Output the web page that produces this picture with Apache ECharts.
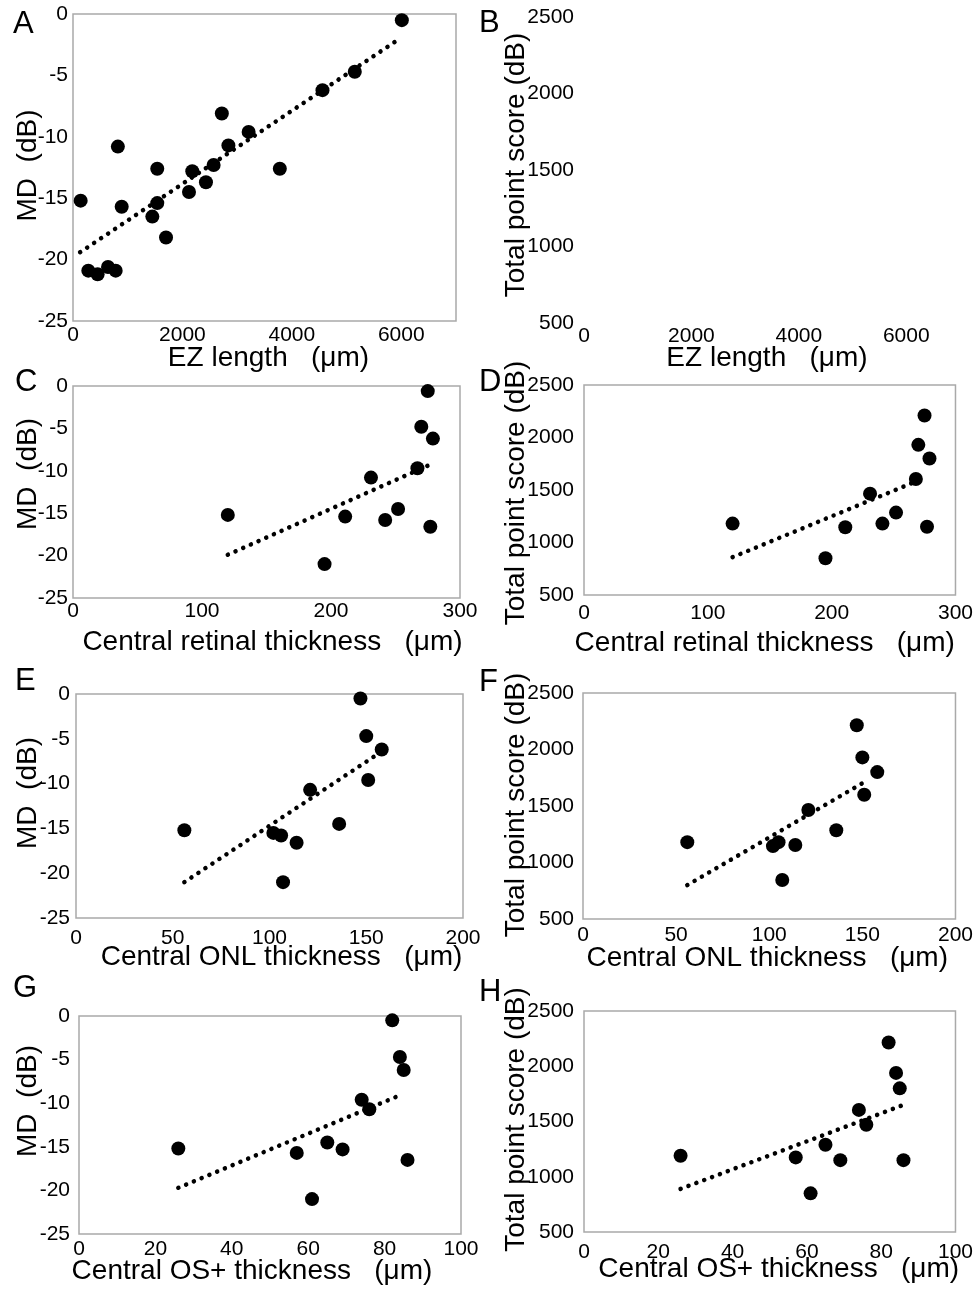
<!DOCTYPE html>
<html>
<head>
<meta charset="utf-8">
<title>MD and total point score vs. OCT measures</title>
<script src="https://cdn.jsdelivr.net/npm/echarts@6/dist/echarts.min.js"></script>
<style>
  html, body { margin: 0; padding: 0; background: #fff; }
  #chart { width: 976px; height: 1289px; }
</style>
</head>
<body>
<div id="chart"></div>
<script>
/* data */
const ezA = [6010, 5150, 4560, 2720, 3210, 2840, 820, 3780, 1540, 2180, 2570, 2430, 2120, 140, 1540, 890, 1450, 1700, 280, 450, 640, 780];
const mdA = [-0.5, -4.7, -6.2, -8.1, -9.6, -10.7, -10.8, -12.6, -12.6, -12.8, -12.3, -13.7, -14.5, -15.2, -15.4, -15.7, -16.5, -18.2, -20.9, -21.2, -20.6, -20.9];
const trendA = [[130, -19.4], [5890, -2.25]];

const crtC = [275, 270, 279, 267, 231, 120, 211, 242, 252, 277, 195];
const mdC = [-0.6, -4.8, -6.2, -9.7, -10.8, -15.2, -15.4, -15.8, -14.5, -16.6, -21];
const trendC = [[120, -19.9], [275, -9.4]];

const crtD = [275, 270, 279, 268, 231, 120, 211, 241, 252, 277, 195];
const tpsD = [2210, 1930, 1800, 1605, 1465, 1180, 1145, 1180, 1285, 1150, 850];
const trendD = [[120, 860], [275, 1615]];

const onlE = [147, 150, 158, 151, 121, 56, 102, 106, 114, 136, 107];
const mdE = [-0.5, -4.7, -6.2, -9.6, -10.7, -15.2, -15.5, -15.8, -16.6, -14.5, -21];
const trendE = [[56, -21], [156, -6.7]];

const onlF = [147, 150, 158, 151, 121, 56, 102, 105, 114, 136, 107];
const tpsF = [2215, 1930, 1800, 1600, 1465, 1180, 1145, 1180, 1155, 1285, 845];
const trendF = [[56, 800], [153, 1730]];

const osG = [82, 84, 85, 74, 76, 26, 57, 65, 69, 86, 61];
const mdG = [-0.5, -4.7, -6.2, -9.6, -10.7, -15.2, -15.7, -14.5, -15.3, -16.5, -21];
const trendG = [[26, -19.7], [84, -9.1]];

const osH = [82, 84, 85, 74, 76, 26, 57, 65, 69, 86, 61];
const tpsH = [2215, 1940, 1800, 1605, 1470, 1190, 1175, 1290, 1150, 1150, 850];
const trendH = [[26, 890], [86, 1650]];

const panelLetters = ["A", "B", "C", "D", "E", "F", "G", "H"];
const xNames = ["EZ length   (\u03bcm)", "EZ length   (\u03bcm)",
  "Central retinal thickness   (\u03bcm)", "Central retinal thickness   (\u03bcm)",
  "Central ONL thickness   (\u03bcm)", "Central ONL thickness   (\u03bcm)",
  "Central OS+ thickness   (\u03bcm)", "Central OS+ thickness   (\u03bcm)"];
const yNameMD = "MD  (dB)";
const yNameTPS = "Total point score (dB)";

const FONT = "'Liberation Sans', Arial, sans-serif";

// layout: grid rect, axis ranges, name gaps / shifts
const panels = [
  { g: [73, 14, 383, 307], x: [0, 7000, 2000], y: [-25, 0, 5], yName: yNameMD, xGap: 23, xShift: 4, yGap: 31, yShift: -2, hideMax: true, xs: ezA, ys: mdA, tr: trendA, lm: [5, 4] },
  { g: [584, 17, 376, 306], x: [0, 7000, 2000], y: [500, 2500, 500], yName: yNameTPS, xGap: 21, xShift: -5, yGap: 54, yShift: -5, hideMax: true, blank: true, lm: [10, 3] },
  { g: [73, 386, 387, 212], x: [0, 300, 100], y: [-25, 0, 5], yName: yNameMD, xGap: 30, xShift: 6, yGap: 31, yShift: -18, xs: crtC, ys: mdC, tr: trendC, lm: [5, 3] },
  { g: [584, 385, 376, 210], x: [0, 300, 100], y: [500, 2500, 500], yName: yNameTPS, xGap: 34, xShift: -5, yGap: 54, yShift: 3, xs: crtD, ys: tpsD, tr: trendD, lm: [10, 8] },
  { g: [76, 694, 387, 224], x: [0, 200, 50], y: [-25, 0, 5], yName: yNameMD, xGap: 25, xShift: 12, yGap: 34, yShift: -13, xs: onlE, ys: mdE, tr: trendE, lm: [6, 10] },
  { g: [583, 693, 377, 226], x: [0, 200, 50], y: [500, 2500, 500], yName: yNameTPS, xGap: 25, xShift: -2, yGap: 53, yShift: -1, xs: onlF, ys: tpsF, tr: trendF, lm: [9, 6] },
  { g: [79, 1016, 382, 218], x: [0, 100, 20], y: [-25, 0, 5], yName: yNameMD, xGap: 23, xShift: -18, yGap: 37, yShift: -24, xs: osG, ys: mdG, tr: trendG, lm: [9, 5] },
  { g: [584, 1011, 376, 221], x: [0, 100, 20], y: [500, 2500, 500], yName: yNameTPS, xGap: 23, xShift: 9, yGap: 54, yShift: -2, xs: osH, ys: tpsH, tr: trendH, lm: [10, 10] }
];
const letterPos = [[13, 25], [479, 24], [15, 383], [479, 383], [15, 682], [479, 683], [13, 989], [479, 993]];

function shiftPad(d) {
  return d >= 0 ? [0, 0, 0, 2 * d] : [0, -2 * d, 0, 0];
}
const plain = (v) => String(v);

const grid = [], xAxis = [], yAxis = [], series = [];
panels.forEach((p, i) => {
  grid.push({
    left: p.g[0], top: p.g[1], width: p.g[2], height: p.g[3],
    show: !p.blank, borderColor: "#a9a9a9", borderWidth: 1.5, backgroundColor: "transparent"
  });
  xAxis.push({
    gridIndex: i, type: "value", min: p.x[0], max: p.x[1], interval: p.x[2],
    name: xNames[i], nameLocation: "middle", nameGap: p.xGap, nameMoveOverlap: false,
    nameTextStyle: { fontSize: 28, color: "#000", fontFamily: FONT, padding: shiftPad(p.xShift) },
    axisLine: { show: false }, axisTick: { show: false }, splitLine: { show: false },
    axisLabel: { fontSize: 21, color: "#000", fontFamily: FONT, margin: p.lm[1], showMaxLabel: !p.hideMax, formatter: plain }
  });
  yAxis.push({
    gridIndex: i, type: "value", min: p.y[0], max: p.y[1], interval: p.y[2],
    name: p.yName, nameLocation: "middle", nameGap: p.yGap, nameMoveOverlap: false,
    nameTextStyle: { fontSize: 28, color: "#000", fontFamily: FONT, padding: shiftPad(-p.yShift) },
    axisLine: { show: false }, axisTick: { show: false }, splitLine: { show: false },
    axisLabel: { fontSize: 21, color: "#000", fontFamily: FONT, margin: p.lm[0], formatter: plain }
  });
  if (p.blank) return;
  series.push({
    type: "line", xAxisIndex: i, yAxisIndex: i, data: p.tr, symbol: "none", silent: true,
    lineStyle: { color: "#000", width: 4.5, type: [0.1, 8.3], cap: "round" }, z: 2
  });
  series.push({
    type: "scatter", xAxisIndex: i, yAxisIndex: i,
    data: p.xs.map((v, k) => [v, p.ys[k]]),
    symbol: "circle", symbolSize: 14, itemStyle: { color: "#000", opacity: 1 }, z: 3
  });
});

const graphic = panelLetters.map((t, i) => ({
  type: "text", left: letterPos[i][0], top: letterPos[i][1] - 16,
  style: { text: t, fill: "#000", font: "31px " + FONT }
}));

const chart = echarts.init(document.getElementById("chart"), null, { renderer: "canvas" });
chart.setOption({
  animation: false,
  backgroundColor: "#fff",
  textStyle: { fontFamily: FONT },
  grid, xAxis, yAxis, series, graphic
});
</script>
</body>
</html>
